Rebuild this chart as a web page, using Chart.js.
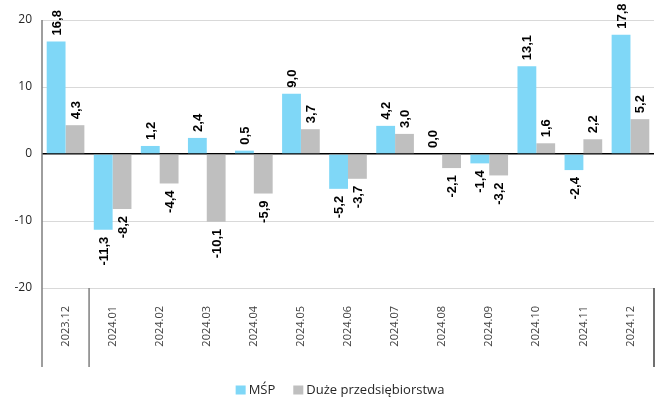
<!DOCTYPE html>
<html>
<head>
<meta charset="utf-8">
<script src="https://cdn.jsdelivr.net/npm/chart.js@4.4.1/dist/chart.umd.min.js"></script>
<style>
  html, body { margin: 0; padding: 0; background: #fff; }
  #wrap { width: 666px; height: 401px; position: relative; }
</style>
</head>
<body>
<div id="wrap"><canvas id="chart"></canvas></div>
<script>
var LABELS = ['2023.12','2024.01','2024.02','2024.03','2024.04','2024.05','2024.06','2024.07','2024.08','2024.09','2024.10','2024.11','2024.12'];
var MSP = [16.8, -11.3, 1.2, 2.4, 0.5, 9.0, -5.2, 4.2, 0.0, -1.4, 13.1, -2.4, 17.8];
var DUZE = [4.3, -8.2, -4.4, -10.1, -5.9, 3.7, -3.7, 3.0, -2.1, -3.2, 1.6, 2.2, 5.2];
var SERIES_NAMES = ['MŚP', 'Duże przedsiębiorstwa'];
var Y_MIN = -20, Y_MAX = 20, Y_STEP = 10;

var FONT = '"Open Sans", "Noto Sans", sans-serif';
var SEP_LEN = 79;

/* value labels, rotated, above/below bars */
var valueLabels = {
  id: 'valueLabels',
  afterDatasetsDraw: function(chart) {
    var ctx = chart.ctx;
    ctx.save();
    ctx.fillStyle = '#000';
    ctx.font = 'bold 13px "Liberation Sans", Arial, sans-serif';
    ctx.textBaseline = 'middle';
    chart.data.datasets.forEach(function(ds, di) {
      chart.getDatasetMeta(di).data.forEach(function(bar, i) {
        var v = ds.data[i];
        var txt = v.toFixed(1).replace('.', ',');
        ctx.save();
        if (v >= 0) {
          ctx.translate(bar.x + 1, bar.y - 6);
          ctx.rotate(-Math.PI / 2);
          ctx.textAlign = 'left';
        } else {
          ctx.translate(bar.x + 1, bar.y + 7);
          ctx.rotate(-Math.PI / 2);
          ctx.textAlign = 'right';
        }
        ctx.fillText(txt, 0, 0);
        ctx.restore();
      });
    });
    ctx.restore();
  }
};

/* axis line + category group separators */
var axisLines = {
  id: 'axisLines',
  afterDraw: function(chart) {
    var ctx = chart.ctx, a = chart.chartArea, xs = chart.scales.x;
    var bottom = a.bottom + SEP_LEN;
    ctx.save();
    ctx.lineWidth = 1.5;
    ctx.strokeStyle = '#7f7f7f';
    ctx.beginPath();
    ctx.moveTo(a.left, a.top);
    ctx.lineTo(a.left, bottom);
    var sep = (xs.getPixelForValue(0) + xs.getPixelForValue(1)) / 2;
    ctx.moveTo(sep, a.bottom);
    ctx.lineTo(sep, bottom);
    ctx.stroke();
    ctx.strokeStyle = '#404040';
    ctx.beginPath();
    ctx.moveTo(a.right, a.bottom);
    ctx.lineTo(a.right, bottom);
    ctx.stroke();
    ctx.restore();
  }
};

/* legend below the axis */
var bottomLegend = {
  id: 'bottomLegend',
  afterDraw: function(chart) {
    var ctx = chart.ctx;
    var ds = chart.data.datasets;
    ctx.save();
    ctx.font = '13px ' + FONT;
    ctx.textBaseline = 'alphabetic';
    var gapBox = 13, gapItem = 18;
    var widths = ds.map(function(d) { return ctx.measureText(d.label).width; });
    var total = 0;
    widths.forEach(function(w, i) { total += gapBox + w + (i ? gapItem : 0); });
    var x = 340 - total / 2;
    ds.forEach(function(d, i) {
      ctx.fillStyle = d.backgroundColor;
      ctx.fillRect(x, 385.5, 10, 9);
      ctx.fillStyle = '#262626';
      ctx.fillText(d.label, x + gapBox, 394);
      x += gapBox + widths[i] + gapItem;
    });
    ctx.restore();
  }
};

new Chart(document.getElementById('chart'), {
  type: 'bar',
  data: {
    labels: LABELS,
    datasets: [
      { label: SERIES_NAMES[0], data: MSP, backgroundColor: '#7fd7f7', categoryPercentage: 0.8, barPercentage: 1.0 },
      { label: SERIES_NAMES[1], data: DUZE, backgroundColor: '#bfbfbf', categoryPercentage: 0.8, barPercentage: 1.0 }
    ]
  },
  options: {
    responsive: true,
    maintainAspectRatio: false,
    animation: false,
    layout: { padding: { top: 20, right: 12, left: 0, bottom: 34 } },
    plugins: {
      tooltip: { enabled: false },
      legend: { display: false }
    },
    scales: {
      x: {
        grid: { display: false },
        border: { display: false },
        ticks: {
          minRotation: 90, maxRotation: 90, padding: 10,
          color: '#404040', font: { family: FONT, size: 11 }
        },
        afterFit: function(s) { s.height = 79; }
      },
      y: {
        min: Y_MIN, max: Y_MAX,
        border: { display: false },
        grid: {
          drawTicks: false,
          color: function(c) { return c.tick.value === 0 ? '#000' : '#d9d9d9'; },
          lineWidth: function(c) { return c.tick.value === 0 ? 1.5 : 1; }
        },
        ticks: {
          stepSize: Y_STEP, padding: 10,
          color: '#262626', font: { family: FONT, size: 12 }
        },
        afterFit: function(s) { s.width = 42; }
      }
    }
  },
  plugins: [valueLabels, axisLines, bottomLegend]
});
</script>
</body>
</html>
